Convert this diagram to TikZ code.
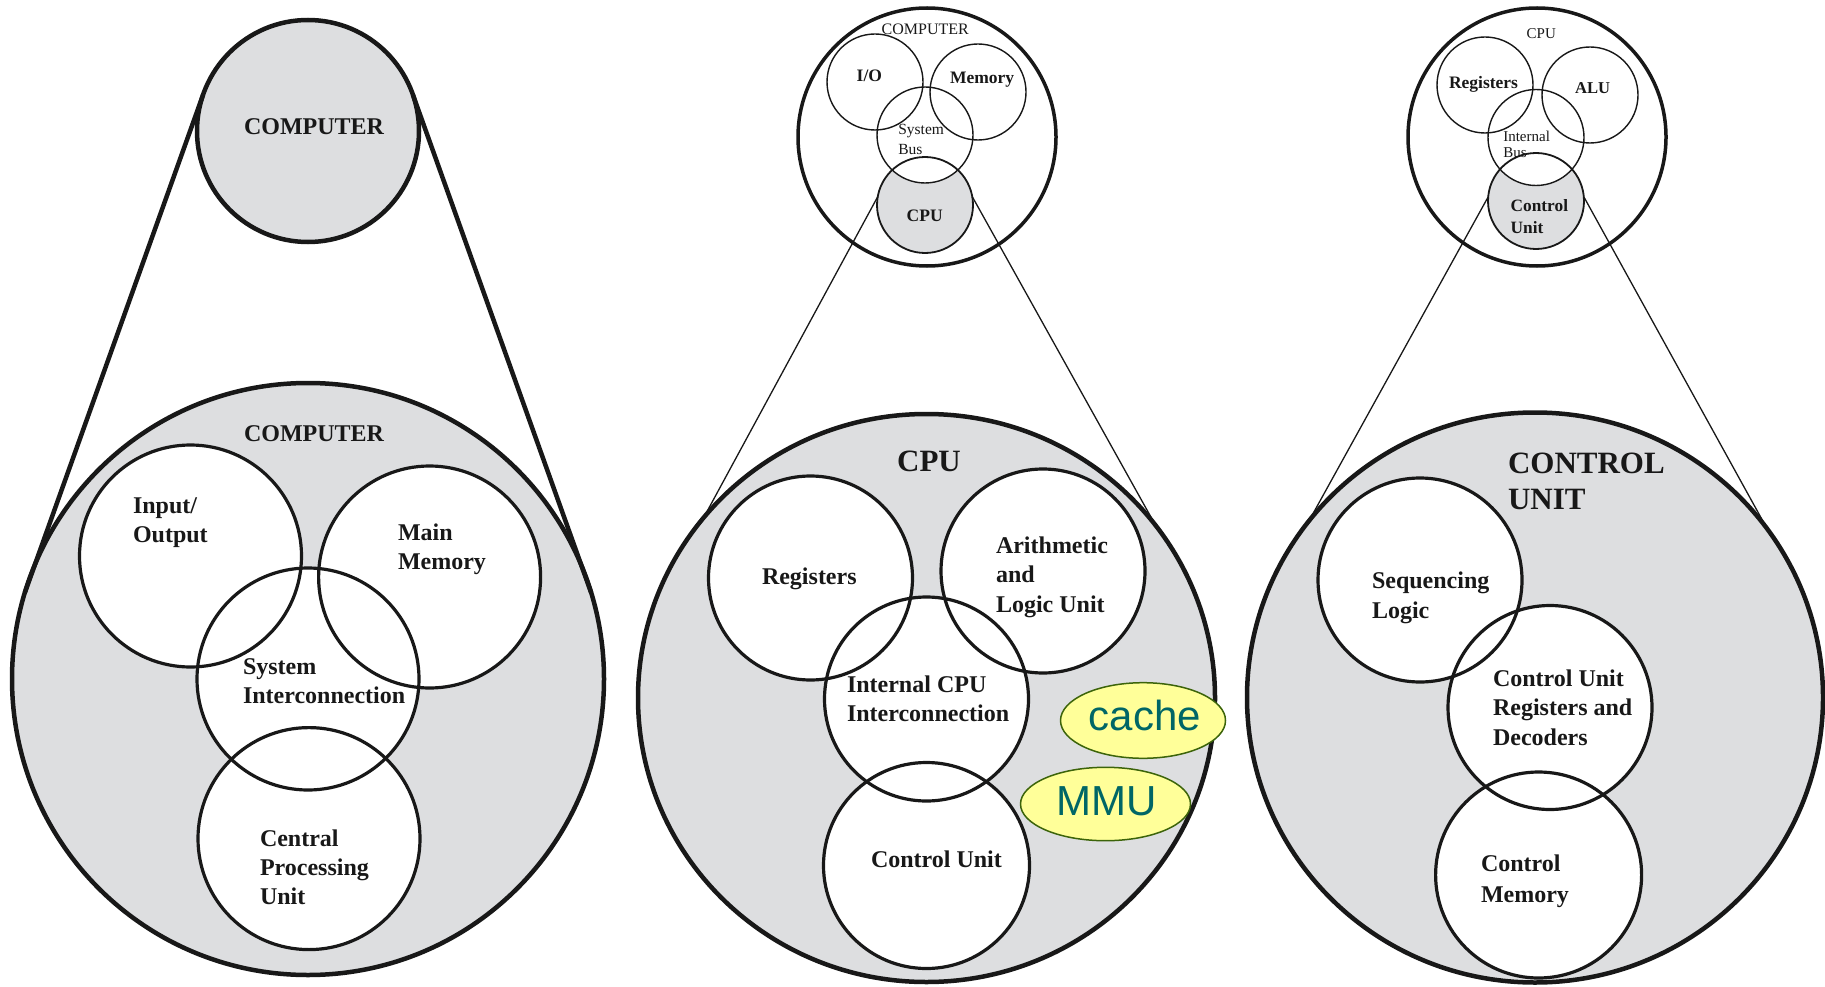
\documentclass[tikz,border=0pt]{standalone}
\usepackage{fontspec}
\setmainfont{Liberation Serif}
\newfontfamily\sansfam{Liberation Sans}
\usetikzlibrary{shapes.geometric}
\definecolor{inkc}{RGB}{24,24,24}
\definecolor{panelgray}{RGB}{221,222,224}
\definecolor{notefill}{RGB}{255,255,153}
\definecolor{noteedge}{RGB}{60,100,10}
\definecolor{notetext}{RGB}{0,102,102}
\pgfdeclarelayer{bottom}
\pgfdeclarelayer{fills}
\pgfsetlayers{bottom,fills,main}
\newcommand\fsz[2]{\fontsize{#1}{#2}\selectfont}

\begin{document}
\begin{tikzpicture}[x=1pt,y=-1pt,
  every node/.style={inner sep=0pt, outer sep=0pt},
  bigdisc/.style={ellipse, draw=inkc, fill=panelgray, line width=4.5pt},
  zoomdisc/.style={circle, draw=inkc, fill=panelgray, line width=4.5pt, minimum size=222pt},
  part/.style={circle, draw=inkc, line width=3.2pt, minimum size=#1},
  minipart/.style={circle, draw=inkc, line width=1.4pt, minimum size=96pt},
  rim/.style={circle, draw=inkc, line width=3.5pt, minimum size=258pt},
  thickray/.style={draw=inkc, line width=4.5pt},
  thinray/.style={draw=inkc, line width=1.3pt},
  note/.style={ellipse, draw=noteedge, fill=notefill, line width=1.5pt},
  notelbl/.style={text=notetext, font=\sansfam\fsz{42}{50}, anchor=base},
  % multi-line labels are placed by the baseline of their last line
  txt/.style={anchor=base west, align=left, text=inkc},
  body/.style={txt, font=\bfseries\fsz{24}{29}},
  title/.style={txt, font=\bfseries\fsz{31}{36}},
  smallb/.style={txt, font=\bfseries\fsz{17.5}{21.5}},
  smallr/.style={txt, font=\fsz{15.5}{20}}
]
\useasboundingbox (0,0) rectangle (1825,987);

% ---------------- panel 1: the computer ----------------
\begin{pgfonlayer}{bottom}
  \node[bigdisc, minimum width=592pt, minimum height=592pt] (c1big) at (308,679) {};
\end{pgfonlayer}
\node[zoomdisc] (c1top) at (308,131) {};
\node[part=222pt] (io)   at (190.5,556) {};
\node[part=222pt] (mem)  at (429.6,577) {};
\node[part=222pt] (sysi) at (308,679) {};
\node[part=222pt] (cpu1) at (309,838.6) {};
\begin{pgfonlayer}{fills}
  \fill[white] (io.center) circle[radius=111];
  \fill[white] (mem.center) circle[radius=111];
  \fill[white] (sysi.center) circle[radius=111];
  \fill[white] (cpu1.center) circle[radius=111];
\end{pgfonlayer}
\draw[thickray] (c1top.161) -- (c1big.163);
\draw[thickray] (c1top.19) -- (c1big.17);

\node[body] (t1a) at (244,134.6) {COMPUTER};
\node[body] (t1b) at (244,441) {COMPUTER};
\node[body] (t1c) at (133,542) {Input/\\Output};
\node[body] (t1d) at (398,569) {Main\\Memory};
\node[body] (t1e) at (243,703) {System\\Interconnection};
\node[body] (t1f) at (260,904.5) {Central\\Processing\\Unit};

% ---------------- panel 2: the CPU ----------------
\node[rim] (rim2) at (927,137) {};
\node[minipart] (io2)  at (875,82) {};
\node[minipart] (mem2) at (978,92) {};
\node[minipart] (bus2) at (925,135) {};
\node[minipart, line width=1.8pt] (cpu2) at (925,205) {};
\begin{pgfonlayer}{fills}
  \fill[panelgray] (cpu2.center) circle[radius=48];
  \fill[white] (bus2.center) circle[radius=48];
\end{pgfonlayer}
\begin{pgfonlayer}{bottom}
  \node[bigdisc, minimum width=577pt, minimum height=568pt] (big2) at (926.5,698) {};
\end{pgfonlayer}
\node[part=204pt] (reg2) at (810.5,578) {};
\node[part=204pt] (alu2) at (1043,571) {};
\node[part=204pt] (icpu) at (926.5,699) {};
\node[part=206pt] (cu2)  at (926.5,865.5) {};
\begin{pgfonlayer}{fills}
  \fill[white] (reg2.center) circle[radius=102];
  \fill[white] (alu2.center) circle[radius=102];
  \fill[white] (icpu.center) circle[radius=102];
  \fill[white] (cu2.center) circle[radius=103];
\end{pgfonlayer}
\draw[thinray] (cpu2.170) -- (big2.141.5);
\draw[thinray] (cpu2.10) -- (big2.37.5);
\node[note, minimum width=165pt, minimum height=75.6pt] (cache) at (1143,720.5) {};
\node[note, minimum width=170pt, minimum height=73.4pt] (mmu) at (1105.5,804) {};
\node[notelbl] (cachet) at (1145,730.7) {cache};
\node[notelbl] (mmut) at (1106.7,815) {MMU};

\node[txt, font=\fsz{16}{20}] (t2a) at (881.7,35) {COMPUTER};
\node[smallb] (t2b) at (856.7,81.7) {I/O};
\node[smallb] (t2c) at (950,83.3) {Memory};
\node[smallr] (t2d) at (898.3,154.5) {System\\Bus};
\node[smallb] (t2e) at (906.7,221.7) {CPU};
\node[title, anchor=base] (t2f) at (929,471.5) {CPU};
\node[body] (t2g) at (762,584) {Registers};
\node[body, font=\bfseries\fsz{24}{29.5}] (t2h) at (996,612) {Arithmetic\\and\\Logic Unit};
\node[body] (t2i) at (847,721.5) {Internal CPU\\Interconnection};
\node[body] (t2j) at (871,867.5) {Control Unit};

% ---------------- panel 3: the control unit ----------------
\node[rim] (rim3) at (1537,137) {};
\node[minipart] (reg3) at (1485,85) {};
\node[minipart] (alu3) at (1590,95) {};
\node[minipart] (bus3) at (1536,137.5) {};
\node[minipart, line width=1.8pt] (cu3) at (1536,201) {};
\begin{pgfonlayer}{fills}
  \fill[panelgray] (cu3.center) circle[radius=48];
  \fill[white] (bus3.center) circle[radius=48];
\end{pgfonlayer}
\begin{pgfonlayer}{bottom}
  \node[bigdisc, minimum width=576pt, minimum height=570pt] (big3) at (1535,697.5) {};
\end{pgfonlayer}
\node[part=204pt] (seq)  at (1420,580) {};
\node[part=204pt] (cureg) at (1550,707.5) {};
\node[part=206pt] (cmem) at (1538.6,875) {};
\begin{pgfonlayer}{fills}
  \fill[white] (seq.center) circle[radius=102];
  \fill[white] (cureg.center) circle[radius=102];
  \fill[white] (cmem.center) circle[radius=103];
\end{pgfonlayer}
\draw[thinray] (cu3.175) -- (big3.142);
\draw[thinray] (cu3.5) -- (big3.36);

\node[txt, font=\fsz{15}{20}] (t3a) at (1526.7,38.3) {CPU};
\node[smallb] (t3b) at (1449,88.3) {Registers};
\node[txt, font=\bfseries\fsz{16.6}{20}] (t3c) at (1575,93.3) {ALU};
\node[txt, font=\fsz{15}{15.5}] (t3d) at (1503.3,157.2) {Internal\\Bus};
\node[txt, font=\bfseries\fsz{17.3}{21.6}] (t3e) at (1510.7,233.3) {Control\\Unit};
\node[title] (t3f) at (1508,509) {CONTROL\\UNIT};
\node[body, font=\bfseries\fsz{24}{30}] (t3g) at (1372,618.5) {Sequencing\\Logic};
\node[body, font=\bfseries\fsz{24}{29.5}] (t3h) at (1493,745) {Control Unit\\Registers and\\Decoders};
\node[body, font=\bfseries\fsz{24}{31}] (t3i) at (1481,902) {Control\\Memory};
\end{tikzpicture}
\end{document}
